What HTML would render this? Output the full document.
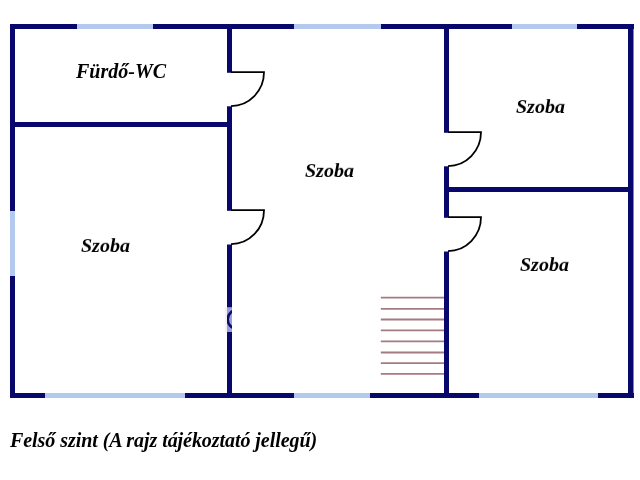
<!DOCTYPE html>
<html><head><meta charset="utf-8">
<style>
html,body{margin:0;padding:0;background:#fff;}
body{width:640px;height:480px;position:relative;overflow:hidden;}
svg{position:absolute;left:0;top:0;}
.t{position:absolute;will-change:transform;font-family:"Liberation Serif",serif;font-weight:bold;font-style:italic;font-size:20px;line-height:20px;height:20px;color:#000;white-space:nowrap;transform-origin:0 16.75px;}
.s{transform:scaleY(0.92);}
</style></head><body>
<svg width="640" height="480" viewBox="0 0 640 480">
  <g fill="#08086c">
    <rect x="10" y="24" width="624" height="5"/>
    <rect x="10" y="393" width="624" height="5"/>
    <rect x="10" y="24" width="5" height="374"/>
    <rect x="628" y="24" width="5.5" height="374"/>
    <rect x="227" y="24" width="5" height="48.8"/>
    <rect x="227" y="106.3" width="5" height="104.5"/>
    <rect x="227" y="244.5" width="5" height="153.5"/>
    <rect x="444" y="24" width="5" height="108.8"/>
    <rect x="444" y="166.3" width="5" height="51.5"/>
    <rect x="444" y="251.5" width="5" height="146.5"/>
    <rect x="10" y="122" width="222" height="5"/>
    <rect x="444" y="187" width="189" height="5"/>
  </g>
  <g fill="#b3c9ed">
    <rect x="77" y="24" width="76" height="5"/>
    <rect x="294" y="24" width="87" height="5"/>
    <rect x="512" y="24" width="65" height="5"/>
    <rect x="45" y="393" width="140" height="5"/>
    <rect x="294" y="393" width="76" height="5"/>
    <rect x="479" y="393" width="119" height="5"/>
    <rect x="10" y="211" width="5" height="65"/>
  </g>
  <clipPath id="cw"><rect x="227" y="24" width="5" height="374"/></clipPath>
  <g clip-path="url(#cw)">
    <rect x="226" y="307.2" width="7" height="24.8" fill="#9c9ddc"/>
    <circle cx="237" cy="319.4" r="9.3" fill="none" stroke="#0c0c66" stroke-width="2.6"/>
  </g>
  <rect x="225" y="307" width="2" height="25" fill="#f1f1fb"/>
  <g fill="none" stroke="#000" stroke-width="1.8">
    <path d="M231 72.1 H264 A33 34 0 0 1 231 106.1"/>
    <path d="M231 210.2 H264 A33 34 0 0 1 231 244.2"/>
    <path d="M448 132.1 H481 A33 34 0 0 1 448 166.1"/>
    <path d="M448 217.1 H481 A33 34 0 0 1 448 251.1"/>
  </g>
  <g stroke="#a67a82" stroke-width="1.8">
    <line x1="380.8" y1="297.7" x2="444" y2="297.7"/>
    <line x1="380.8" y1="308.8" x2="444" y2="308.8"/>
    <line x1="380.8" y1="319.5" x2="444" y2="319.5"/>
    <line x1="380.8" y1="330.3" x2="444" y2="330.3"/>
    <line x1="380.8" y1="341.3" x2="444" y2="341.3"/>
    <line x1="380.8" y1="352.5" x2="444" y2="352.5"/>
    <line x1="380.8" y1="363.2" x2="444" y2="363.2"/>
    <line x1="380.8" y1="373.9" x2="444" y2="373.9"/>
  </g>
</svg>
<div class="t" style="left:76px;top:60.5px;">Fürdő-WC</div>
<div class="t s" style="left:305px;top:159.8px;">Szoba</div>
<div class="t s" style="left:81px;top:235.1px;">Szoba</div>
<div class="t s" style="left:516px;top:96px;">Szoba</div>
<div class="t s" style="left:520px;top:253.9px;">Szoba</div>
<div class="t" style="left:10px;top:429.8px;letter-spacing:-0.06px;">Felső szint (A rajz tájékoztató jellegű)</div>
</body></html>
